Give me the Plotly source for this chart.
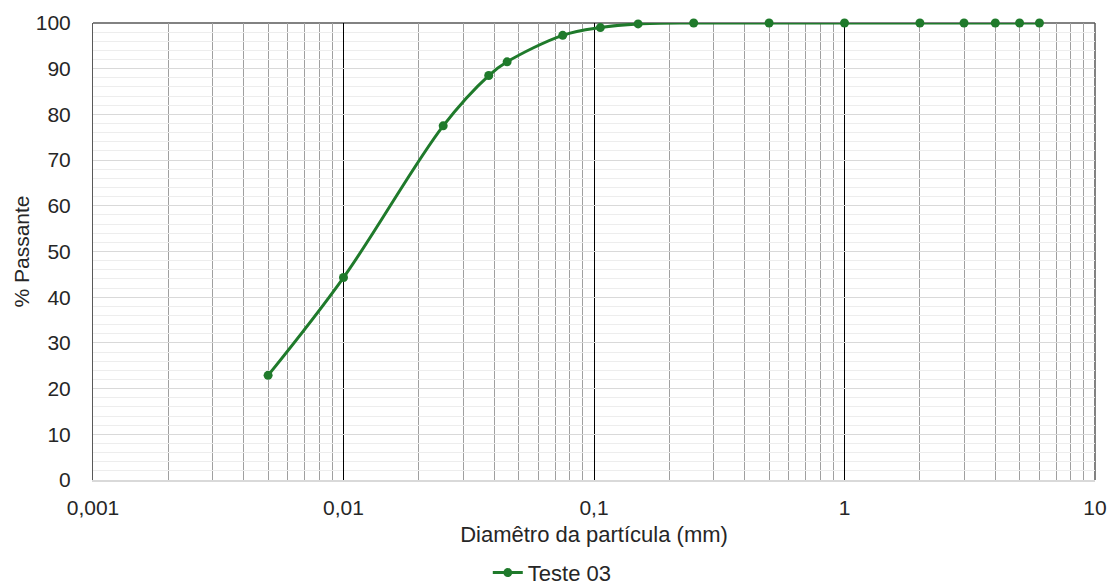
import plotly.graph_objects as go

diametro = [0.005, 0.01, 0.025, 0.038, 0.045, 0.075, 0.106, 0.15, 0.25, 0.5, 1, 2, 3, 4, 5, 6]
passante = [22.9, 44.3, 77.5, 88.5, 91.5, 97.3, 99.0, 99.8, 100, 100, 100, 100, 100, 100, 100, 100]
serie = "Teste 03"
x_tickvals = [0.001, 0.01, 0.1, 1, 10]
x_ticktext = ["0,001", "0,01", "0,1", "1", "10"]
y_tickvals = list(range(0, 101, 10))

verde = "#1f7a2b"
texto = "#262626"
font = "Liberation Sans, Arial, sans-serif"
fs = 21
fs_t = 22

fig = go.Figure()
fig.add_trace(go.Scatter(
    x=diametro, y=passante, name=serie, mode="lines+markers",
    line=dict(color=verde, width=3, shape="spline", smoothing=1),
    marker=dict(color=verde, size=9),
    cliponaxis=False,
))

fig.update_layout(
    width=1109, height=586,
    margin=dict(l=93, r=14, t=23, b=106, autoexpand=False),
    paper_bgcolor="white", plot_bgcolor="white",
    font=dict(family=font, color=texto, size=fs),
    showlegend=True,
    legend=dict(orientation="h", x=0.394, xanchor="left", y=-0.203, yanchor="middle",
                font=dict(size=fs_t, color=texto), itemwidth=30,
                bgcolor="rgba(0,0,0,0)"),
)

fig.update_xaxes(
    type="log", range=[-3, 1], automargin=False,
    tickvals=x_tickvals, ticktext=x_ticktext,
    tickfont=dict(size=fs, color=texto),
    ticks="outside", ticklen=8, tickcolor="rgba(0,0,0,0)",
    showgrid=True, gridcolor="#000000", gridwidth=1,
    minor=dict(showgrid=True, dtick="D1", gridcolor="#a0a0a0", gridwidth=1),
    showline=True, linecolor="#d9d9d9", linewidth=2, mirror=False,
    zeroline=False,
    title=dict(text="Diamêtro da partícula (mm)", font=dict(size=fs_t, color=texto), standoff=8),
)
fig.update_yaxes(
    range=[0, 100], tickvals=y_tickvals, automargin=False,
    tickfont=dict(size=fs, color=texto),
    ticks="outside", ticklen=17, tickcolor="rgba(0,0,0,0)",
    showgrid=True, gridcolor="#d9d9d9", gridwidth=1,
    minor=dict(showgrid=True, dtick=2, gridcolor="#ededed", gridwidth=1),
    showline=True, linecolor="#595959", linewidth=1,
    zeroline=False,
    title=dict(text="% Passante", font=dict(size=fs, color=texto), standoff=0),
)

# top and right borders of the plot area (drawn beneath the data)
fig.add_shape(type="line", xref="paper", yref="paper", x0=0, x1=1, y0=1, y1=1,
              line=dict(color="#595959", width=1.5), layer="between")
fig.add_shape(type="line", xref="paper", yref="paper", x0=1, x1=1, y0=0, y1=1,
              line=dict(color="#595959", width=1.5), layer="between")

fig.write_html("out.html", config={"displayModeBar": False},
               post_script="document.body.style.margin='0px';")
